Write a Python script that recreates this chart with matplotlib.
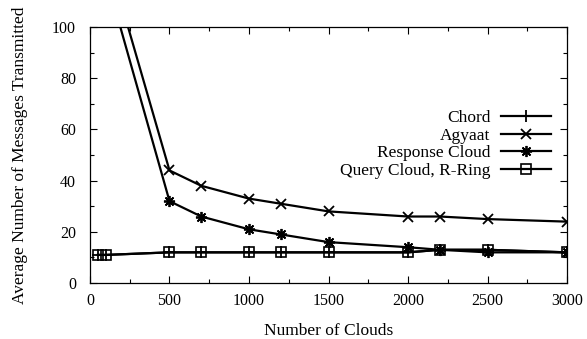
import numpy as np
import matplotlib.pyplot as plt
from matplotlib.ticker import MultipleLocator

plt.rcParams['font.family'] = ['Liberation Serif', 'DejaVu Serif']
plt.rcParams['font.size'] = 11.5

# data
x_low = [50, 100, 500, 700, 1000, 1200, 1500, 2000, 2200, 2500, 3000]
x_high = [100, 500, 700, 1000, 1200, 1500, 2000, 2200, 2500, 3000]
chord = [11, 11, 12, 12, 12, 12, 12, 12, 13, 13, 12]
agyaat = [130, 44, 38, 33, 31, 28, 26, 26, 25, 24]
response = [120, 32, 26, 21, 19, 16, 14, 13, 12, 12]
query = [11, 11, 12, 12, 12, 12, 12, 12, 13, 13, 12]

fig = plt.figure(figsize=(5.87, 3.39), dpi=100)
ax = fig.add_axes([0.1533, 0.165, 0.8127, 0.755])

lw = 1.6
ax.plot(x_low, chord, color='black', lw=lw, marker='+', ms=8, mew=1.3, label='Chord')
ax.plot(x_high, agyaat, color='black', lw=lw, marker='x', ms=7, mew=1.3, label='Agyaat')
ax.plot(x_high, response, color='black', lw=lw, marker=(8, 2, 0), ms=8, mew=1.3,
        label='Response Cloud')
ax.plot(x_low, query, color='black', lw=lw, marker='s', ms=7, mew=1.2,
        fillstyle='none', label='Query Cloud, R-Ring')

ax.set_xlim(0, 3000)
ax.set_ylim(0, 100)
ax.xaxis.set_major_locator(MultipleLocator(500))
ax.xaxis.set_minor_locator(MultipleLocator(250))
ax.yaxis.set_major_locator(MultipleLocator(20))
ax.yaxis.set_minor_locator(MultipleLocator(10))
ax.tick_params(which='both', direction='in', top=True, right=True, width=0.8)
ax.tick_params(which='major', length=5)
ax.tick_params(axis='x', which='major', pad=7)
ax.tick_params(axis='y', which='major', pad=10)
ax.tick_params(which='minor', length=3)
for s in ax.spines.values():
    s.set_linewidth(0.9)

ax.set_xlabel('Number of Clouds', fontsize=12.5, labelpad=10)
ax.set_ylabel('Average Number of Messages Transmitted', fontsize=12.5, labelpad=17)

ax.legend(loc='upper right', bbox_to_anchor=(0.985, 0.71), frameon=False,
          markerfirst=False, handlelength=2.9, labelspacing=0.08,
          handletextpad=0.6, borderpad=0, fontsize=12.5)

fig.savefig('out.png', dpi=100)
